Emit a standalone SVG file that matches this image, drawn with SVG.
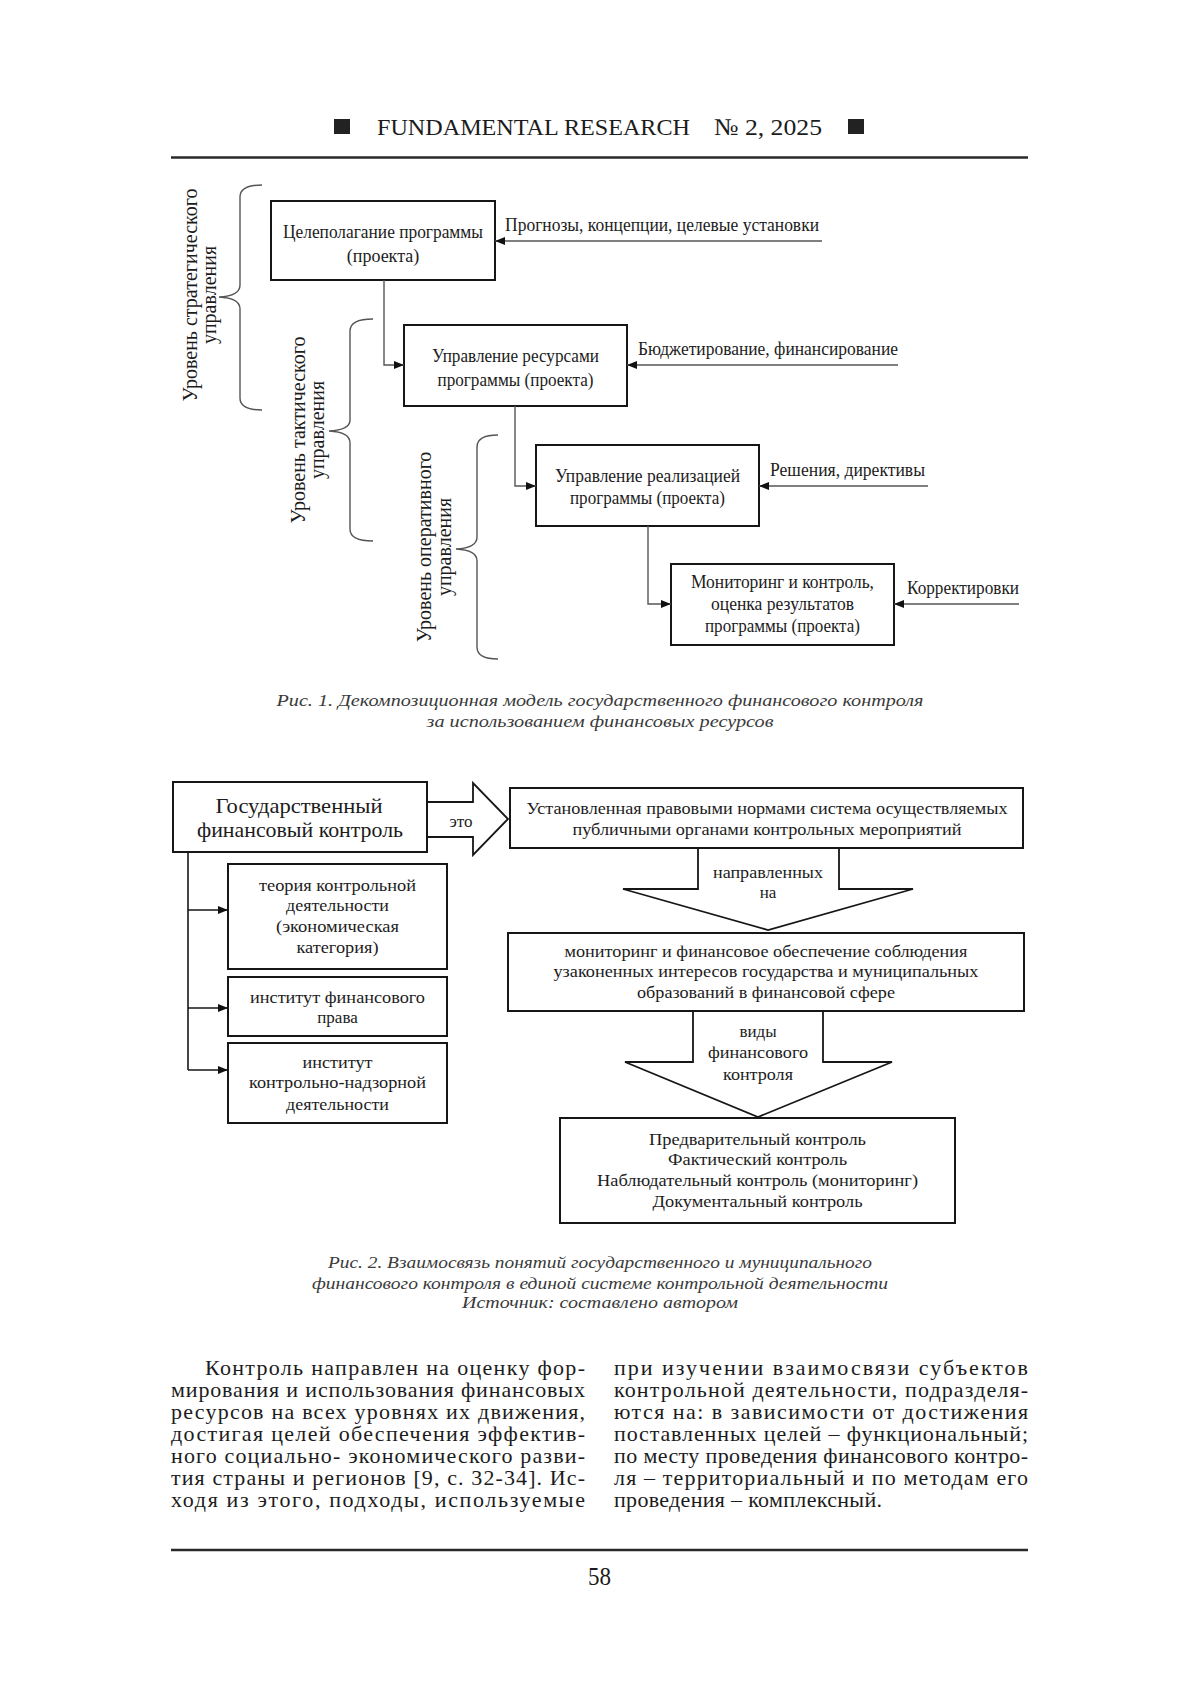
<svg xmlns="http://www.w3.org/2000/svg" width="1200" height="1697" viewBox="0 0 1200 1697">
<style>
  text { font-family: "Liberation Serif", "Times New Roman", serif; fill: #1c1c1c; }
  .hd { font-size: 24px; }
  .b1 { font-size: 18px; text-anchor: middle; }
  .lb { font-size: 18px; }
  .rot { font-size: 20px; text-anchor: middle; }
  .cap { font-size: 17px; font-style: italic; text-anchor: middle; fill: #3a3a3a; }
  .b2 { font-size: 17px; text-anchor: middle; }
  .big { font-size: 22px; text-anchor: middle; }
  .body { font-size: 22px; }
  .box { fill: #ffffff; stroke: #161616; stroke-width: 2; }
  .conn { fill: none; stroke: #555555; stroke-width: 1.4; }
  .conn2 { fill: none; stroke: #161616; stroke-width: 1.6; }
  .brace { fill: none; stroke: #555555; stroke-width: 1.4; }
  .bigarrow { fill: #ffffff; stroke: #161616; stroke-width: 1.8; stroke-linejoin: miter; }
  .rule { stroke: #2a2a2a; stroke-width: 2.5; }
</style>
<defs>
  <marker id="ah" viewBox="0 0 10 8" refX="10" refY="4" markerWidth="10" markerHeight="8" markerUnits="userSpaceOnUse" orient="auto">
    <path d="M0,0 L10,4 L0,8 z" fill="#111111"/>
  </marker>
</defs>
<rect width="1200" height="1697" fill="#ffffff"/>

<!-- header -->
<g id="header">
  <rect x="334" y="119" width="16" height="15" fill="#222222"/>
  <text class="hd" x="377" y="135" textLength="313" lengthAdjust="spacingAndGlyphs">FUNDAMENTAL RESEARCH</text>
  <text class="hd" x="714" y="135" textLength="108" lengthAdjust="spacingAndGlyphs">№ 2,  2025</text>
  <rect x="848" y="119" width="16" height="15" fill="#222222"/>
  <line class="rule" x1="171" y1="157.5" x2="1028" y2="157.5"/>
</g>

<!-- Figure 1 -->
<g id="fig1-braces">
  <path class="brace" d="M262,185 Q240,185 240,197 V285 Q240,296 219,297 Q240,298 240,309 V398 Q240,410 262,410"/>
  <path class="brace" d="M373,319 Q350,319 350,331 V420 Q350,430 329,431 Q350,432 350,443 V529 Q350,541 373,541"/>
  <path class="brace" d="M498,435 Q477,435 477,447 V537 Q477,548 456,549 Q477,550 477,561 V647 Q477,659 498,659"/>
</g>
<g id="level-strategic">
  <text class="rot" transform="translate(197,295) rotate(-90)">Уровень стратегического</text>
  <text class="rot" transform="translate(216,295) rotate(-90)">управления</text>
</g>
<g id="level-tactical">
  <text class="rot" transform="translate(305,430) rotate(-90)">Уровень тактического</text>
  <text class="rot" transform="translate(324,430) rotate(-90)">управления</text>
</g>
<g id="level-operative">
  <text class="rot" transform="translate(431,547) rotate(-90)">Уровень оперативного</text>
  <text class="rot" transform="translate(451,547) rotate(-90)">управления</text>
</g>

<g id="f1-box1">
  <rect class="box" x="271" y="201" width="224" height="79"/>
  <text class="b1" x="383" y="238" textLength="200" lengthAdjust="spacingAndGlyphs">Целеполагание программы</text>
  <text class="b1" x="383" y="262">(проекта)</text>
</g>
<g id="f1-box2">
  <rect class="box" x="404" y="325" width="223" height="81"/>
  <text class="b1" x="515.5" y="362" textLength="167" lengthAdjust="spacingAndGlyphs">Управление ресурсами</text>
  <text class="b1" x="515.5" y="386" textLength="156" lengthAdjust="spacingAndGlyphs">программы (проекта)</text>
</g>
<g id="f1-box3">
  <rect class="box" x="536" y="445" width="223" height="81"/>
  <text class="b1" x="647.5" y="482" textLength="185" lengthAdjust="spacingAndGlyphs">Управление реализацией</text>
  <text class="b1" x="647.5" y="504" textLength="155" lengthAdjust="spacingAndGlyphs">программы (проекта)</text>
</g>
<g id="f1-box4">
  <rect class="box" x="671" y="564" width="223" height="81"/>
  <text class="b1" x="782.5" y="588" textLength="183" lengthAdjust="spacingAndGlyphs">Мониторинг и контроль,</text>
  <text class="b1" x="782.5" y="610" textLength="143" lengthAdjust="spacingAndGlyphs">оценка результатов</text>
  <text class="b1" x="782.5" y="632" textLength="155" lengthAdjust="spacingAndGlyphs">программы (проекта)</text>
</g>
<g id="f1-labels">
  <text class="lb" x="505" y="231" textLength="314" lengthAdjust="spacingAndGlyphs">Прогнозы, концепции, целевые установки</text>
  <text class="lb" x="638" y="355" textLength="260" lengthAdjust="spacingAndGlyphs">Бюджетирование, финансирование</text>
  <text class="lb" x="770" y="476" textLength="155" lengthAdjust="spacingAndGlyphs">Решения, директивы</text>
  <text class="lb" x="907" y="594" textLength="112" lengthAdjust="spacingAndGlyphs">Корректировки</text>
</g>
<g id="f1-connectors">
  <path class="conn" d="M384,280 V365 H404" marker-end="url(#ah)"/>
  <path class="conn" d="M515,406 V486 H536" marker-end="url(#ah)"/>
  <path class="conn" d="M648,526 V604 H671" marker-end="url(#ah)"/>
  <path class="conn" d="M822,241 H495" marker-end="url(#ah)"/>
  <path class="conn" d="M898,365 H627" marker-end="url(#ah)"/>
  <path class="conn" d="M928,486 H759" marker-end="url(#ah)"/>
  <path class="conn" d="M1019,604 H894" marker-end="url(#ah)"/>
</g>
<g id="caption1">
  <text class="cap" x="600" y="706" textLength="647" lengthAdjust="spacingAndGlyphs">Рис. 1. Декомпозиционная модель государственного финансового контроля</text>
  <text class="cap" x="600" y="727" textLength="347" lengthAdjust="spacingAndGlyphs">за использованием финансовых ресурсов</text>
</g>

<!-- Figure 2 -->
<g id="f2-connectors">
  <path class="bigarrow" d="M427,802 H473 V783 L508,819 L473,855 V837 H427"/>
  <text class="b2" x="461" y="827">это</text>
  <path class="bigarrow" d="M698,848 V889 H623 L768,930 L913,889 H839 V848"/>
  <text class="b2" x="768" y="878" textLength="110" lengthAdjust="spacingAndGlyphs">направленных</text>
  <text class="b2" x="768" y="898">на</text>
  <path class="bigarrow" d="M693,1011 V1062 H625 L758,1117 L892,1062 H823 V1011"/>
  <text class="b2" x="758" y="1037">виды</text>
  <text class="b2" x="758" y="1058" textLength="100" lengthAdjust="spacingAndGlyphs">финансового</text>
  <text class="b2" x="758" y="1080" textLength="70" lengthAdjust="spacingAndGlyphs">контроля</text>
  <path class="conn2" d="M188,852 V1070"/>
  <path class="conn2" d="M188,910 H228" marker-end="url(#ah)"/>
  <path class="conn2" d="M188,1008 H228" marker-end="url(#ah)"/>
  <path class="conn2" d="M188,1070 H228" marker-end="url(#ah)"/>
</g>
<g id="f2-gfk">
  <rect class="box" x="173" y="782" width="254" height="70"/>
  <text class="big" x="299" y="813" textLength="167" lengthAdjust="spacingAndGlyphs">Государственный</text>
  <text class="big" x="300" y="837" textLength="206" lengthAdjust="spacingAndGlyphs">финансовый контроль</text>
</g>
<g id="f2-theory">
  <rect class="box" x="228" y="864" width="219" height="105"/>
  <text class="b2" x="337.5" y="891" textLength="157" lengthAdjust="spacingAndGlyphs">теория контрольной</text>
  <text class="b2" x="337.5" y="911" textLength="103" lengthAdjust="spacingAndGlyphs">деятельности</text>
  <text class="b2" x="337.5" y="932" textLength="123" lengthAdjust="spacingAndGlyphs">(экономическая</text>
  <text class="b2" x="337.5" y="953" textLength="82" lengthAdjust="spacingAndGlyphs">категория)</text>
</g>
<g id="f2-law">
  <rect class="box" x="228" y="977" width="219" height="59"/>
  <text class="b2" x="337.5" y="1003" textLength="175" lengthAdjust="spacingAndGlyphs">институт финансового</text>
  <text class="b2" x="337.5" y="1023">права</text>
</g>
<g id="f2-supervision">
  <rect class="box" x="228" y="1043" width="219" height="80"/>
  <text class="b2" x="337.5" y="1068" textLength="70" lengthAdjust="spacingAndGlyphs">институт</text>
  <text class="b2" x="337.5" y="1088" textLength="177" lengthAdjust="spacingAndGlyphs">контрольно-надзорной</text>
  <text class="b2" x="337.5" y="1110" textLength="103" lengthAdjust="spacingAndGlyphs">деятельности</text>
</g>
<g id="f2-system">
  <rect class="box" x="510" y="788" width="513" height="60"/>
  <text class="b2" x="767" y="814" textLength="481" lengthAdjust="spacingAndGlyphs">Установленная правовыми нормами система осуществляемых</text>
  <text class="b2" x="767" y="835" textLength="389" lengthAdjust="spacingAndGlyphs">публичными органами контрольных мероприятий</text>
</g>
<g id="f2-monitoring">
  <rect class="box" x="508" y="933" width="516" height="78"/>
  <text class="b2" x="766" y="957" textLength="403" lengthAdjust="spacingAndGlyphs">мониторинг и финансовое обеспечение соблюдения</text>
  <text class="b2" x="766" y="977" textLength="425" lengthAdjust="spacingAndGlyphs">узаконенных интересов государства и муниципальных</text>
  <text class="b2" x="766" y="998" textLength="258" lengthAdjust="spacingAndGlyphs">образований в финансовой сфере</text>
</g>
<g id="f2-types">
  <rect class="box" x="560" y="1118" width="395" height="105"/>
  <text class="b2" x="757.5" y="1145" textLength="217" lengthAdjust="spacingAndGlyphs">Предварительный контроль</text>
  <text class="b2" x="757.5" y="1165" textLength="179" lengthAdjust="spacingAndGlyphs">Фактический контроль</text>
  <text class="b2" x="757.5" y="1186" textLength="321" lengthAdjust="spacingAndGlyphs">Наблюдательный контроль (мониторинг)</text>
  <text class="b2" x="757.5" y="1207" textLength="210" lengthAdjust="spacingAndGlyphs">Документальный контроль</text>
</g>
<g id="caption2">
  <text class="cap" x="600" y="1268" textLength="544" lengthAdjust="spacingAndGlyphs">Рис. 2. Взаимосвязь понятий государственного и муниципального</text>
  <text class="cap" x="600" y="1289" textLength="576" lengthAdjust="spacingAndGlyphs">финансового контроля в единой системе контрольной деятельности</text>
  <text class="cap" x="600" y="1308" textLength="276" lengthAdjust="spacingAndGlyphs">Источник: составлено автором</text>
</g>

<!-- body text -->
<g id="body-left">
  <text class="body" x="205" y="1375" textLength="380" lengthAdjust="spacing">Контроль направлен на оценку фор-</text>
  <text class="body" x="171" y="1397" textLength="414" lengthAdjust="spacing">мирования и использования финансовых</text>
  <text class="body" x="171" y="1419" textLength="414" lengthAdjust="spacing">ресурсов на всех уровнях их движения,</text>
  <text class="body" x="171" y="1441" textLength="414" lengthAdjust="spacing">достигая целей обеспечения эффектив-</text>
  <text class="body" x="171" y="1463" textLength="414" lengthAdjust="spacing">ного социально- экономического разви-</text>
  <text class="body" x="171" y="1485" textLength="414" lengthAdjust="spacing">тия страны и регионов [9, с. 32-34]. Ис-</text>
  <text class="body" x="171" y="1507" textLength="414" lengthAdjust="spacing">ходя из этого, подходы, используемые</text>
</g>
<g id="body-right">
  <text class="body" x="614" y="1375" textLength="414" lengthAdjust="spacing">при изучении взаимосвязи субъектов</text>
  <text class="body" x="614" y="1397" textLength="414" lengthAdjust="spacing">контрольной деятельности, подразделя-</text>
  <text class="body" x="614" y="1419" textLength="414" lengthAdjust="spacing">ются на: в зависимости от достижения</text>
  <text class="body" x="614" y="1441" textLength="414" lengthAdjust="spacing">поставленных целей – функциональный;</text>
  <text class="body" x="614" y="1463" textLength="414" lengthAdjust="spacing">по месту проведения финансового контро-</text>
  <text class="body" x="614" y="1485" textLength="414" lengthAdjust="spacing">ля – территориальный и по методам его</text>
  <text class="body" x="614" y="1507" textLength="268" lengthAdjust="spacing">проведения – комплексный.</text>
</g>

<g id="footer">
  <line class="rule" x1="171" y1="1550" x2="1028" y2="1550"/>
  <text x="599.5" y="1585" font-size="26" text-anchor="middle" textLength="23" lengthAdjust="spacingAndGlyphs">58</text>
</g>
</svg>
